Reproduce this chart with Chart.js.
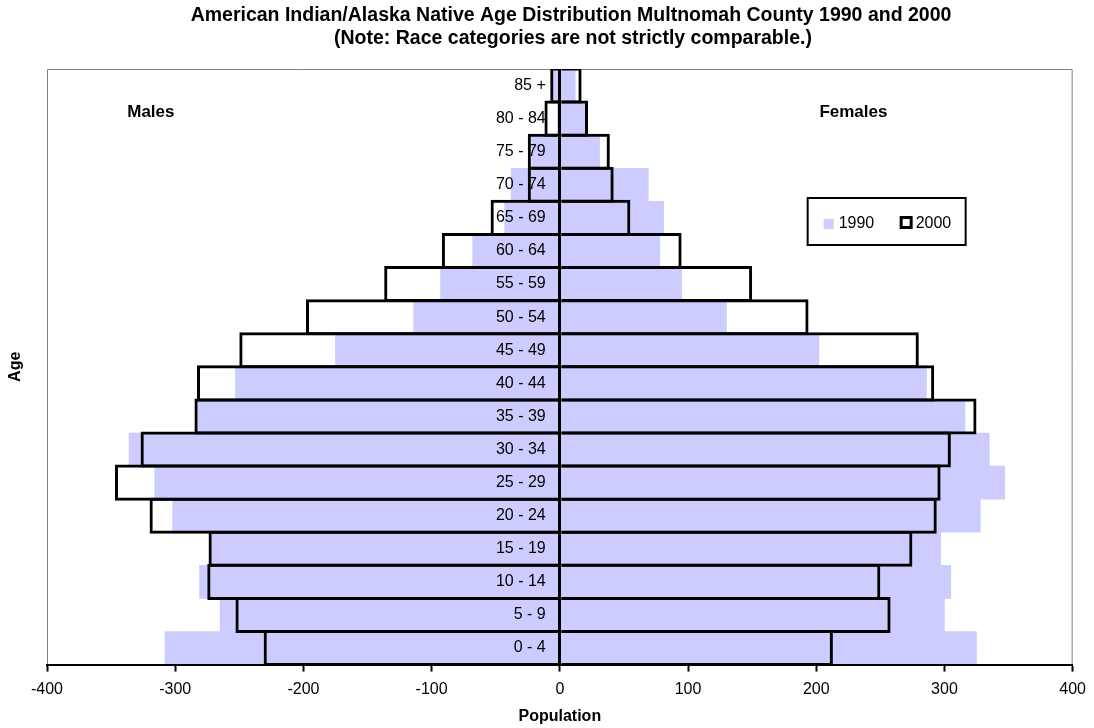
<!DOCTYPE html>
<html>
<head>
<meta charset="utf-8">
<script src="https://cdn.jsdelivr.net/npm/chart.js@4/dist/chart.umd.min.js"></script>
<style>
  body { margin: 0; background: #fff; }
  canvas { display: block; }
</style>
</head>
<body>
<canvas id="pyramid" width="1094" height="728"></canvas>
<script>
// Faixas etárias (de baixo para cima)
const ageGroups = ['0 - 4', '5 - 9', '10 - 14', '15 - 19', '20 - 24', '25 - 29', '30 - 34', '35 - 39',
  '40 - 44', '45 - 49', '50 - 54', '55 - 59', '60 - 64', '65 - 69', '70 - 74', '75 - 79', '80 - 84', '85 +'];

// Homens ficam negativos (lado esquerdo)
const males1990 = [-308, -265, -281, -273, -302, -316, -336, -283, -253, -175, -114, -93, -68, -43, -38, -22, -2, -6];
const females1990 = [325, 300, 305, 297, 328, 347, 335, 316, 286, 202, 130, 95, 78, 81, 69, 31, 20, 12];
const males2000 = [-231, -253, -275, -274, -320, -347, -327, -285, -283, -250, -198, -137, -92, -54, -25, -25, -12, -7.5];
const females2000 = [213, 258, 250, 275, 294, 297, 305, 325, 292, 280, 194, 150, 95, 55, 42, 39, 22, 17];

const popTicks = [-400, -300, -200, -100, 0, 100, 200, 300, 400];
const titleLines = ['American Indian/Alaska Native Age Distribution Multnomah County 1990 and 2000',
  '(Note: Race categories are not strictly comparable.)'];

const FONT = '"Liberation Sans", Arial, sans-serif';
const FILL_1990 = '#CCCCFF';

Chart.defaults.font.family = FONT;
Chart.defaults.color = '#000';

const isZero = (c) => c.tick && c.tick.value === 0;

// Moldura cinza, título, rótulos e legenda desenhados à mão
const decorations = {
  id: 'decorations',
  beforeDatasetsDraw(chart) {
    const { ctx, chartArea: a } = chart;
    ctx.save();
    ctx.strokeStyle = '#808080';
    ctx.lineWidth = 1;
    ctx.beginPath();
    ctx.moveTo(a.left + 0.5, a.bottom);
    ctx.lineTo(a.left + 0.5, a.top + 0.5);
    ctx.lineTo(a.right - 0.5, a.top + 0.5);
    ctx.lineTo(a.right - 0.5, a.bottom);
    ctx.stroke();
    ctx.restore();
  },
  afterDraw(chart) {
    const { ctx, chartArea: a } = chart;
    const x = chart.scales.x;
    ctx.save();
    ctx.fillStyle = '#000';
    ctx.textBaseline = 'middle';
    ctx.textAlign = 'center';

    // título (o original fica um pouco à direita do centro do gráfico)
    ctx.font = 'bold 19.5px ' + FONT;
    ctx.fillText(titleLines[0], 571, 16);
    ctx.fillText(titleLines[1], 573, 39);

    ctx.font = 'bold 17px ' + FONT;
    ctx.fillText('Males', x.getPixelForValue(-319), a.top + 43);
    ctx.fillText('Females', x.getPixelForValue(229), a.top + 43);

    // eixo Y: "Age"
    ctx.save();
    ctx.translate(16, (a.top + a.bottom) / 2);
    ctx.rotate(-Math.PI / 2);
    ctx.font = 'bold 16px ' + FONT;
    ctx.fillText('Age', 0, 0);
    ctx.restore();

    // legenda
    const lx = a.right - 265, ly = a.top + 129;
    ctx.lineWidth = 2;
    ctx.strokeStyle = '#000';
    ctx.strokeRect(lx, ly, 158, 47);
    ctx.fillStyle = FILL_1990;
    ctx.fillRect(lx + 16, ly + 21, 10, 10);
    ctx.lineWidth = 3;
    ctx.strokeRect(lx + 93.5, ly + 19.5, 10, 10);
    ctx.fillStyle = '#000';
    ctx.textAlign = 'left';
    ctx.font = '16px ' + FONT;
    ctx.fillText('1990', lx + 31, ly + 26);
    ctx.fillText('2000', lx + 108, ly + 26);
    ctx.restore();
  }
};

const ctx = document.getElementById('pyramid').getContext('2d');

new Chart(ctx, {
  type: 'bar',
  data: {
    labels: ageGroups,
    datasets: [
      { label: '2000', data: males2000, backgroundColor: 'rgba(0,0,0,0)', borderColor: '#000', borderWidth: 3, barPercentage: 1.09, order: 1 },
      { label: '2000', data: females2000, backgroundColor: 'rgba(0,0,0,0)', borderColor: '#000', borderWidth: 3, barPercentage: 1.09, order: 1 },
      { label: '1990', data: males1990, backgroundColor: FILL_1990, borderWidth: 0, order: 2 },
      { label: '1990', data: females1990, backgroundColor: FILL_1990, borderWidth: 0, order: 2 }
    ]
  },
  options: {
    indexAxis: 'y',
    responsive: false,
    animation: false,
    datasets: { bar: { grouped: false, categoryPercentage: 1, barPercentage: 1 } },
    layout: { padding: { left: 47, right: 16, top: 69, bottom: 2 } },
    plugins: {
      legend: { display: false },
      tooltip: { enabled: false },
      title: { display: false }
    },
    scales: {
      x: {
        min: -400,
        max: 400,
        afterBuildTicks: (axis) => { axis.ticks = popTicks.map(v => ({ value: v })); },
        // só a linha do zero aparece dentro da área (linha central preta)
        grid: {
          z: 1,
          color: (c) => isZero(c) ? '#000' : 'rgba(0,0,0,0)',
          lineWidth: (c) => isZero(c) ? 3 : 1,
          tickColor: '#000',
          tickWidth: 2,
          tickLength: 7
        },
        border: { color: '#000', width: 2, z: 1 },
        ticks: { font: { size: 16 }, padding: 8, maxRotation: 0 },
        title: { display: true, text: 'Population', font: { size: 16, weight: 'bold' }, padding: { top: 0, bottom: 0 } }
      },
      y: {
        position: { x: -11 },
        reverse: true,
        grid: { display: false },
        border: { display: false },
        ticks: { font: { size: 16 }, autoSkip: false, z: 2 }
      }
    }
  },
  plugins: [decorations]
});
</script>
</body>
</html>
